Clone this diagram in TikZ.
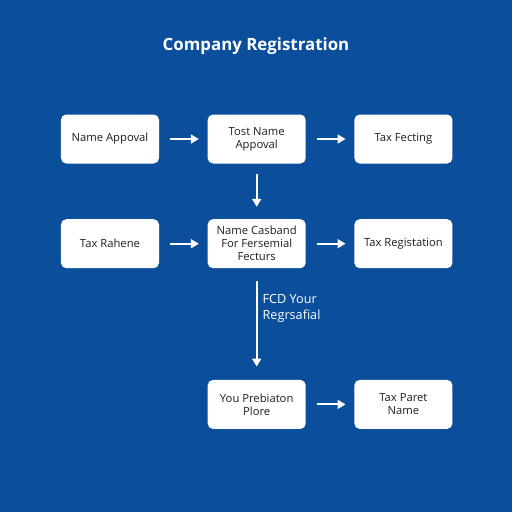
\documentclass[tikz,border=0pt]{standalone}
\usepackage{fontspec}
\setmainfont{Open Sans}
\usepackage{tikz}
\usetikzlibrary{positioning, arrows.meta}
\definecolor{regblue}{HTML}{0B4F9C}
\definecolor{boxtext}{HTML}{1E1E1E}

\begin{document}
\begin{tikzpicture}[
        node distance=0.96cm,
        >={Triangle[width=5pt,length=4.5pt]},
        box/.style={rectangle, rounded corners=3pt, fill=white, text=boxtext,
            minimum width=1.96cm, minimum height=0.98cm, align=center,
            font=\fontsize{6.4}{7.4}\selectfont},
        flow/.style={->, white, line width=1.1pt, shorten <=0.22cm, shorten >=0.17cm}
    ]
    
    % Background
    \fill[regblue] (0,0) rectangle (10.24,-10.24);
    \useasboundingbox (0,0) rectangle (10.24,-10.24);
    
    % Title
    \node[text=white, font=\fontsize{9.6}{11}\selectfont\bfseries] (title) at (5.12,-0.92) {Company Registration};
    
    % Boxes
    \node[box] (name) at (2.2,-2.78) {Name Appoval};
    \node[box, right=of name] (tost) {Tost Name\\Appoval};
    \node[box, right=of tost] (fect) {Tax Fecting};
    \node[box, below=1.1cm of name] (rahene) {Tax Rahene};
    \node[box, right=of rahene] (casband) {Name Casband\\For Fersemial\\Fecturs};
    \node[box, right=of casband] (taxreg) {Tax Registation};
    \node[box, below=2.22cm of casband] (prob) {You Prebiaton\\Plore};
    \node[box, right=of prob] (paret) {Tax Paret\\Name};
    
    % Arrows
    \draw[flow] (name) -- (tost);
    \draw[flow] (tost) -- (fect);
    \draw[flow] (rahene) -- (casband);
    \draw[flow] (casband) -- (taxreg);
    \draw[flow] (prob) -- (paret);
    \draw[flow, shorten <=0.2cm, shorten >=0.24cm] (tost) -- (casband);
    \draw[flow, shorten <=0.24cm, shorten >=0.26cm] (casband) -- (prob)
        node[pos=0.36, right=0.1cm, inner sep=0pt, text=white, align=left, font=\fontsize{7.2}{9.1}\selectfont] (fcd) {FCD Your\\Regrsafial};
    
\end{tikzpicture}
\end{document}
